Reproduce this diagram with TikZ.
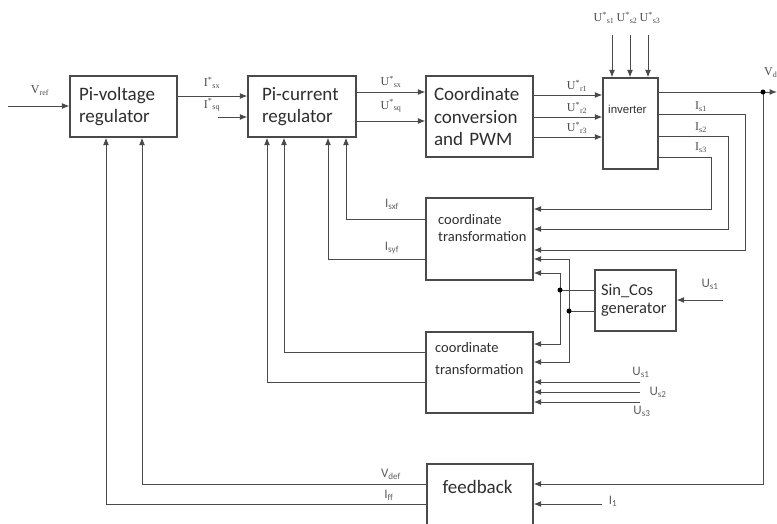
\documentclass[tikz,border=0pt]{standalone}
\usepackage{fontspec}
\setmainfont{Carlito}
\newfontfamily\serifett{Liberation Serif}
\newfontfamily\arialfont{Liberation Sans}
\usetikzlibrary{arrows.meta}

\definecolor{linea}{HTML}{4A4A4A}
\definecolor{etich}{HTML}{5E5E5E}
\definecolor{testo}{HTML}{2E2E2E}

\tikzset{
  blocco/.style={draw=linea, line width=1.3pt, inner ysep=0pt, align=left,
    text=testo, font=\fontsize{19}{22}\selectfont},
  scritta/.style={inner sep=0pt, text=testo, align=left},
  freccia/.style={draw=linea, line width=1pt, -{Latex[length=7.5pt,width=6pt]}},
  filo/.style={draw=linea, line width=1pt},
  punto/.style={circle, fill=black, inner sep=0pt, minimum size=5pt},
  sigla/.style={inner sep=0pt, text=linea, font=\serifett\fontsize{12}{13}\selectfont},
  siglagrigia/.style={inner sep=0pt, text=etich, font=\fontsize{13}{14}\selectfont},
}

\begin{document}
\begin{tikzpicture}[x=1pt, y=-1pt]
  \useasboundingbox (0,0) rectangle (777,523);
  \clip (0,0) rectangle (777,523);

  % blocchi
  \node[blocco, minimum width=107pt, minimum height=61pt, text width=89pt, inner xsep=9pt] (pv) at (123.5,106.5) {Pi-voltage\\regulator};
  \node[blocco, minimum width=108pt, minimum height=61pt, text width=80pt, inner xsep=14pt] (pc) at (302,106.5) {Pi-current\\regulator};
  \node[blocco, minimum width=107pt, minimum height=81pt, text width=91pt, inner xsep=8pt, font=\fontsize{19}{22.5}\selectfont] (cc) at (479.5,116.5) {Coordinate\\conversion\\and PWM};
  \node[blocco, minimum width=55pt, minimum height=91pt] (inv) at (630.5,123.5) {};
  \node[blocco, minimum width=107pt, minimum height=82pt] (ct1) at (479.5,239) {};
  \node[blocco, minimum width=81pt, minimum height=61pt, text width=69pt, inner xsep=6pt, font=\fontsize{16.5}{18}\selectfont] (sc) at (635.5,300.5) {Sin\_Cos\\generator};
  \node[blocco, minimum width=107pt, minimum height=81pt] (ct2) at (479.5,372.5) {};
  \node[blocco, minimum width=106pt, minimum height=76pt] (fb) at (480,502) {};

  \node[scritta, anchor=base west, font=\arialfont\fontsize{11.5}{12}\selectfont] (invt) at (608,113) {inverter};
  \node[scritta, anchor=north west, font=\fontsize{14.5}{17}\selectfont] (ct1t) at (438,214) {coordinate\\transformation};
  \node[scritta, anchor=north west, font=\fontsize{14.5}{22}\selectfont] (ct2t) at (435,342) {coordinate\\transformation};
  \node[scritta, font=\fontsize{19}{22}\selectfont] (fbt) at (477.5,487) {feedback};

  % catena diretta
  \coordinate (vref) at (8,106);
  \draw[freccia] (vref) -- (vref -| pv.west);
  \node[sigla] (lvref) at (40,91) {V\textsubscript{ref}};

  \draw[freccia] (pv.east |- 0,96) -- (pc.west |- 0,96);
  \coordinate (isq) at (218,117);
  \draw[freccia] (isq) -- (isq -| pc.west);
  \node[sigla] (lisx) at (212,83) {I\textsuperscript{*}\textsubscript{sx}};
  \node[sigla] (lisq) at (212,105) {I\textsuperscript{*}\textsubscript{sq}};

  \draw[freccia] (pc.east |- 0,92) -- (cc.west |- 0,92);
  \draw[freccia] (pc.east |- 0,121) -- (cc.west |- 0,121);
  \node[sigla] (lusx) at (391,82) {U\textsuperscript{*}\textsubscript{sx}};
  \node[sigla] (lusq) at (391,106) {U\textsuperscript{*}\textsubscript{sq}};

  \foreach \y/\n in {95/1,117/2,137/3} {
    \draw[freccia] (cc.east |- 0,\y) -- (inv.west |- 0,\y);
    \node[sigla] (lur\n) at (577,\y-9) {U\textsuperscript{*}\textsubscript{r\n}};
  }

  \foreach \x/\n/\l in {612/1/604,630/2/627,648/3/650} {
    \coordinate (us\n) at (\x,35);
    \draw[freccia] (us\n) -- (us\n |- inv.north);
    \node[sigla] (lus\n) at (\l,18) {U\textsuperscript{*}\textsubscript{s\n}};
  }

  % uscite inverter
  \coordinate (vd) at (763,92);
  \coordinate (vdout) at (777,92);
  \draw[freccia] (inv.east |- vd) -- (vdout);
  \draw[freccia] (vd) |- (fb.east |- 0,484);
  \node[punto] (pvd) at (vd) {};
  \node[sigla, anchor=west] (lvd) at (764,73) {V\textsubscript{d}};

  \draw[freccia] (inv.east |- 0,114) -| (745,250) -- (ct1.east |- 0,250);
  \draw[freccia] (inv.east |- 0,136) -| (728,229) -- (ct1.east |- 0,229);
  \draw[freccia] (inv.east |- 0,157) -| (711,209) -- (ct1.east |- 0,209);
  \node[sigla] (lis1) at (701,107) {I\textsubscript{s1}};
  \node[sigla] (lis2) at (701,128) {I\textsubscript{s2}};
  \node[sigla] (lis3) at (701,148) {I\textsubscript{s3}};

  % retroazioni di corrente
  \draw[freccia] (ct1.west |- 0,219) -| (pc.south -| 346,0);
  \draw[freccia] (ct1.west |- 0,259) -| (pc.south -| 328,0);
  \draw[freccia] (ct2.west |- 0,352) -| (pc.south -| 284,0);
  \draw[freccia] (ct2.west |- 0,382) -| (pc.south -| 267,0);
  \node[siglagrigia] (lisxf) at (392,204) {I\textsubscript{sxf}};
  \node[siglagrigia] (lisyf) at (392,248) {I\textsubscript{syf}};

  % seno e coseno
  \coordinate (p1) at (560,290);
  \coordinate (p2) at (569,311);
  \draw[filo] (sc.west |- p1) -- (p1);
  \draw[filo] (sc.west |- p2) -- (p2);
  \draw[freccia] (p1) |- (ct1.east |- 0,273);
  \draw[freccia] (p1) |- (ct2.east |- 0,344);
  \draw[freccia] (p2) |- (ct1.east |- 0,259);
  \draw[freccia] (p2) |- (ct2.east |- 0,362);
  \node[punto] (pp1) at (p1) {};
  \node[punto] (pp2) at (p2) {};
  \coordinate (usc) at (723,300);
  \draw[freccia] (usc) -- (usc -| sc.east);
  \node[siglagrigia] (lusc) at (710,284) {U\textsubscript{s1}};

  \foreach \y/\n in {382/1,392/2,402/3} {
    \coordinate (ux\n) at (640,\y);
    \draw[freccia] (ux\n) -- (ux\n -| ct2.east);
  }
  \node[siglagrigia] (lux1) at (641,372) {U\textsubscript{s1}};
  \node[siglagrigia] (lux2) at (658,392) {U\textsubscript{s2}};
  \node[siglagrigia] (lux3) at (642,411) {U\textsubscript{s3}};

  % feedback
  \coordinate (ione) at (602,504);
  \draw[freccia] (ione) -- (ione -| fb.east);
  \node[siglagrigia] (lione) at (613,501) {I\textsubscript{1}};
  \draw[freccia] (fb.west |- 0,484) -| (pv.south -| 142,0);
  \draw[freccia] (fb.west |- 0,504) -| (pv.south -| 106,0);
  \node[siglagrigia] (lvdef) at (391,474) {V\textsubscript{def}};
  \node[siglagrigia] (liff) at (389,495) {I\textsubscript{ff}};
\end{tikzpicture}
\end{document}
